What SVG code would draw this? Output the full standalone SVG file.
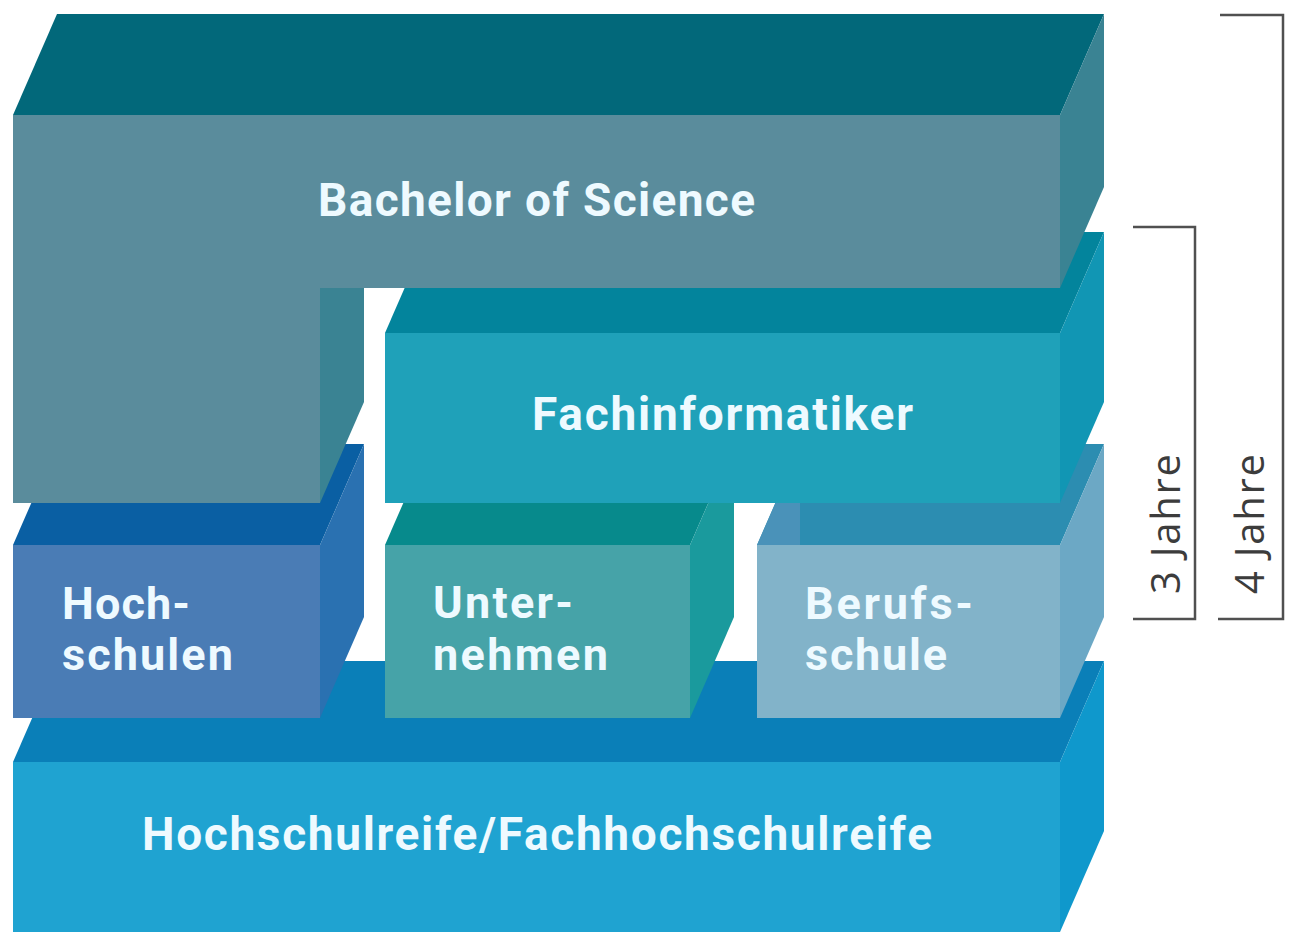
<svg xmlns="http://www.w3.org/2000/svg" width="1290" height="932" viewBox="0 0 1290 932">
<style>
.lbl{font-family:Roboto,"Liberation Sans",sans-serif;font-weight:700;fill:#eefaff;font-size:46px}
.sm{font-size:45px}
.yr{font-family:"Open Sans","Liberation Sans",sans-serif;font-size:40px;fill:#3c3c3c}
.br{fill:none;stroke:#505050;stroke-width:2.5}
</style>
<rect width="1290" height="932" fill="#ffffff"/>
<g id="hochschulreife">
<polygon points="13,762 1060,762 1104,661 57,661" fill="#0a7fb8"/>
<polygon points="1060,762 1104,661 1104,831 1060,932" fill="#0f98cc"/>
<rect x="13" y="762" width="1047" height="170" fill="#1fa3d1"/>
<text class="lbl" x="142" y="850" textLength="790" lengthAdjust="spacing">Hochschulreife/Fachhochschulreife</text>
</g>
<g id="hochschulen">
<polygon points="13,545 320,545 364,444 57,444" fill="#0a5fa3"/>
<polygon points="320,545 364,444 364,617 320,718" fill="#2a71b1"/>
<rect x="13" y="545" width="307" height="173" fill="#4a7cb5"/>
<text class="lbl sm" x="62" y="619" textLength="128" lengthAdjust="spacing">Hoch-</text>
<text class="lbl sm" x="62" y="670" textLength="171" lengthAdjust="spacing">schulen</text>
</g>
<g id="unternehmen">
<polygon points="385,545 690,545 734,444 429,444" fill="#078a8c"/>
<polygon points="690,545 734,444 734,617 690,718" fill="#1a9a9d"/>
<rect x="385" y="545" width="305" height="173" fill="#46a3a8"/>
<text class="lbl sm" x="433" y="618" textLength="140" lengthAdjust="spacing">Unter-</text>
<text class="lbl sm" x="433" y="670" textLength="175" lengthAdjust="spacing">nehmen</text>
</g>
<g id="berufsschule">
<polygon points="757,545 1060,545 1104,444 801,444" fill="#2c8db1"/>
<polygon points="757,545 800,545 800,470 790,470" fill="#4a92b9"/>
<polygon points="1060,545 1104,444 1104,617 1060,718" fill="#6ca8c5"/>
<rect x="757" y="545" width="303" height="173" fill="#82b3c9"/>
<text class="lbl sm" x="805" y="619" textLength="168" lengthAdjust="spacing">Berufs-</text>
<text class="lbl sm" x="805" y="670" textLength="142" lengthAdjust="spacing">schule</text>
</g>
<g id="fachinformatiker">
<polygon points="385,333 1060,333 1104,232 429,232" fill="#03849c"/>
<polygon points="1060,333 1104,232 1104,402 1060,503" fill="#1196b4"/>
<rect x="385" y="333" width="675" height="170" fill="#1fa1b9"/>
<text class="lbl" x="532" y="430" textLength="381" lengthAdjust="spacing">Fachinformatiker</text>
</g>
<g id="bachelor">
<polygon points="320,288 364,187 364,402 320,503" fill="#3a8393"/>
<polygon points="13,115 1060,115 1104,14 57,14" fill="#02687a"/>
<polygon points="1060,115 1104,14 1104,187 1060,288" fill="#3a8393"/>
<polygon points="13,115 1060,115 1060,288 320,288 320,503 13,503" fill="#5a8c9c"/>
<text class="lbl" x="318" y="216" textLength="437" lengthAdjust="spacing">Bachelor of Science</text>
</g>
<g id="brackets">
<path class="br" d="M1133,227 H1195 V619 H1133"/>
<path class="br" d="M1220,15 H1283 V619 H1218"/>
<text class="yr" transform="translate(1180,594) rotate(-90)" textLength="140" lengthAdjust="spacing">3 Jahre</text>
<text class="yr" transform="translate(1264,594) rotate(-90)" textLength="140" lengthAdjust="spacing">4 Jahre</text>
</g>
</svg>
